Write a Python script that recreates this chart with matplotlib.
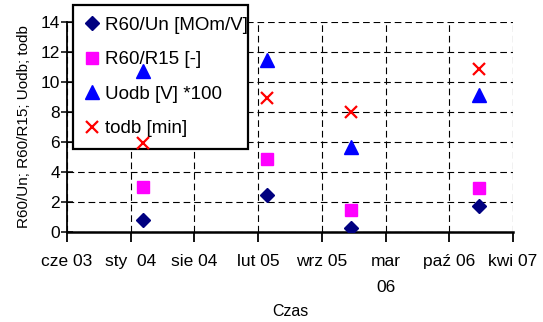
import numpy as np
import matplotlib
matplotlib.use("Agg")
import matplotlib.pyplot as plt
import matplotlib.dates as mdates

plt.rcParams['font.family'] = ['Liberation Sans', 'DejaVu Sans']

# Measurement dates
dates = np.array(['2004-02-23', '2005-03-18', '2005-12-06', '2007-01-12'], dtype='datetime64[D]')

# Series values
r60_un = [0.78, 2.5, 0.27, 1.72]       # R60/Un [MOm/V]
r60_r15 = [3.03, 4.89, 1.47, 2.92]     # R60/R15 [-]
uodb = [10.72, 11.48, 5.68, 9.13]      # Uodb [V] *100
todb = [5.95, 8.92, 7.98, 10.9]        # todb [min]

# Date axis: 200-day steps
x_start = np.datetime64('2003-06-28')
x_step_days = 200
tick_labels = ['cze 03', 'sty  04', 'sie 04', 'lut 05', 'wrz 05', 'mar\n06', 'paź 06', 'kwi 07']
y_ticks = [0, 2, 4, 6, 8, 10, 12, 14]

fig = plt.figure(figsize=(5.43, 3.22), dpi=100)
ax = fig.add_axes([67 / 543, 1 - 232 / 322, 446 / 543, 210 / 322])

xd = mdates.date2num(dates)
tick_dates = x_start + np.arange(len(tick_labels)) * x_step_days
xt = mdates.date2num(tick_dates)

ax.plot(xd, r60_un, linestyle='none', marker='D', markersize=7.2,
        color='#000080', label='R60/Un [MOm/V]', zorder=3)
ax.plot(xd, r60_r15, linestyle='none', marker='s', markersize=9,
        color='#FF00FF', label='R60/R15 [-]', zorder=3)
ax.plot(xd, uodb, linestyle='none', marker='^', markersize=10,
        color='#0000FF', label='Uodb [V] *100', zorder=3)
ax.plot(xd, todb, linestyle='none', marker='x', markersize=9, markeredgewidth=1.6,
        color='#FF0000', label='todb [min]', zorder=3)

ax.set_xlim(xt[0], xt[-1])
ax.set_ylim(0, 14)
ax.set_xticks(xt)
ax.set_xticklabels(tick_labels, fontsize=12.5, linespacing=1.9, va='top')
ax.set_yticks(y_ticks)
ax.set_yticklabels([str(v) for v in y_ticks], fontsize=12.5)

ax.grid(True, color='black', linestyle=(0, (6, 3.5)), linewidth=0.8)
ax.set_axisbelow(True)

for side in ('top', 'right'):
    ax.spines[side].set_visible(False)
ax.spines['left'].set_linewidth(1.3)
ax.spines['bottom'].set_linewidth(1.8)
ax.tick_params(axis='y', direction='inout', length=8, width=1.1, pad=1)
ax.tick_params(axis='x', direction='out', length=7, width=1.3, pad=9)

ax.set_xlabel('Czas', fontsize=11.5)
ax.xaxis.set_label_coords(0.5, -0.345)
ax.set_ylabel('R60/Un; R60/R15; Uodb; todb', fontsize=11)
ax.yaxis.set_label_coords(-0.08, 0.5)

# Legend sits above the grid but below the markers
leg = ax.legend(loc='upper left',
                bbox_to_anchor=(73 / 543, 1 - 144 / 322, 175 / 543, 139 / 322),
                bbox_transform=fig.transFigure,
                mode='expand', borderaxespad=0, fontsize=13.5, frameon=True,
                fancybox=False, edgecolor='black', framealpha=1,
                handlelength=0.8, handletextpad=0.3, labelspacing=0.93,
                borderpad=0.62)
leg.get_frame().set_linewidth(1.6)
leg.set_zorder(2.5)

fig.savefig('out.png', dpi=100)
